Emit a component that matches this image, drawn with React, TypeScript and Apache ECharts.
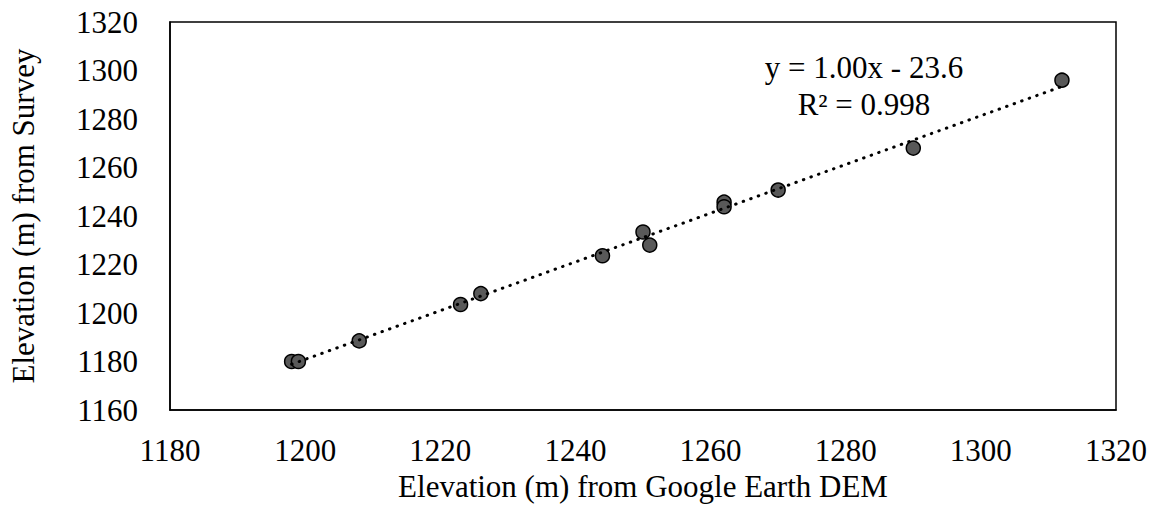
import React, { useEffect, useRef } from "react";
import * as echarts from "echarts";

const demElevation = [1198, 1199, 1208, 1223, 1226, 1244, 1250, 1251, 1262, 1262, 1270, 1290, 1312];
const surveyElevation = [1180, 1180, 1188.5, 1203.5, 1208, 1223.6, 1233.4, 1228, 1245.7, 1243.8, 1250.7, 1268, 1296];
const equationText = "y = 1.00x - 23.6";
const r2Text = "R² = 0.998";
const xTitle = "Elevation (m) from Google Earth DEM";
const yTitle = "Elevation (m) from Survey";

const FONT = "'Liberation Serif', 'Times New Roman', serif";
const FS = 31;

export default function App() {
  const ref = useRef<HTMLDivElement>(null);
  useEffect(() => {
    if (!ref.current) return;
    const chart = echarts.init(ref.current, null, { renderer: "svg" });
    const n = demElevation.length;
    const mx = demElevation.reduce((a, b) => a + b, 0) / n;
    const my = surveyElevation.reduce((a, b) => a + b, 0) / n;
    let sxy = 0, sxx = 0;
    for (let i = 0; i < n; i++) {
      sxy += (demElevation[i] - mx) * (surveyElevation[i] - my);
      sxx += (demElevation[i] - mx) ** 2;
    }
    const slope = sxy / sxx;
    const icpt = my - slope * mx;
    const xmin = Math.min(...demElevation);
    const xmax = Math.max(...demElevation);
    const trend = [
      [xmin, icpt + slope * xmin],
      [xmax, icpt + slope * xmax],
    ];
    const pts = demElevation.map((x, i) => [x, surveyElevation[i]]);
    const labelStyle = { color: "#000", fontFamily: FONT, fontSize: FS };
    const fmt = (v: number) => String(v);
    chart.setOption({
      animation: false,
      backgroundColor: "#fff",
      textStyle: { fontFamily: FONT },
      grid: {
        left: 170, right: 41, top: 22, bottom: 95,
        show: true, borderColor: "#000", borderWidth: 1.5, backgroundColor: "transparent",
      },
      xAxis: {
        type: "value", min: 1180, max: 1320, interval: 20,
        splitLine: { show: false }, axisTick: { show: false },
        axisLine: { show: true, lineStyle: { color: "#000", width: 1.5 } },
        axisLabel: { ...labelStyle, margin: 25, formatter: fmt },
        name: xTitle, nameLocation: "middle", nameGap: 61,
        nameTextStyle: { ...labelStyle },
      },
      yAxis: {
        type: "value", min: 1160, max: 1320, interval: 20,
        splitLine: { show: false }, axisTick: { show: false },
        axisLine: { show: true, lineStyle: { color: "#000", width: 1.5 } },
        axisLabel: { ...labelStyle, margin: 32, formatter: fmt },
        name: yTitle, nameLocation: "middle", nameGap: 131, nameRotate: 90,
        nameTextStyle: { ...labelStyle },
      },
      series: [
        {
          type: "line", data: trend, symbol: "none", silent: true, z: 3,
          lineStyle: { color: "#000", width: 3, type: [0.5, 7.5], cap: "round" },
        },
        {
          type: "scatter", data: pts, symbol: "circle", symbolSize: 14, z: 2,
          itemStyle: { color: "#595959", borderColor: "#000", borderWidth: 1.5, opacity: 1 },
        },
      ],
      graphic: [
        { type: "text", x: 864, y: 67, style: { text: equationText, fill: "#000", font: `${FS}px ${FONT}`, textAlign: "center", textVerticalAlign: "middle" } },
        { type: "text", x: 864, y: 104, style: { text: r2Text, fill: "#000", font: `${FS}px ${FONT}`, textAlign: "center", textVerticalAlign: "middle" } },
      ],
    });
    return () => chart.dispose();
  }, []);
  return <div ref={ref} style={{ position: "fixed", left: 0, top: 0, width: 1157, height: 507 }} />;
}
